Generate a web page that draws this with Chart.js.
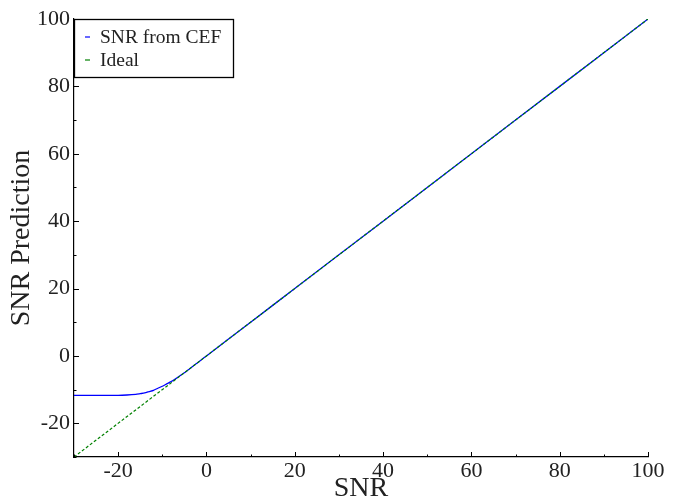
<!DOCTYPE html>
<html>
<head>
<meta charset="utf-8">
<script src="https://cdn.jsdelivr.net/npm/chart.js@4/dist/chart.umd.min.js"></script>
<style>
  html, body { margin: 0; padding: 0; background: #fff; }
  #wrap { width: 679px; height: 503px; position: relative; }
</style>
</head>
<body>
<div id="wrap"><canvas id="snrChart"></canvas></div>
<script>
// SNR from CEF
const cefX = [-30, -25, -20, -18, -16, -15, -14, -13, -12, -11, -10, -9, -8, -7, -6, -5, -4, -3, -2, -1, 0, 10, 20, 40, 60, 80, 100];
const cefY = [-11.7, -11.7, -11.7, -11.6, -11.4, -11.2, -11.0, -10.6, -10.2, -9.6, -9.0, -8.3, -7.6, -6.8, -5.9, -5.0, -4.0, -3.0, -2.0, -1.0, 0, 10, 20, 40, 60, 80, 100];

// Ideal line
const idealX = [-30, 100];
const idealY = [-30, 100];

const xTicks = [-20, 0, 20, 40, 60, 80, 100];
const yTicks = [-20, 0, 20, 40, 60, 80, 100];
const minorTicks = [-30, -10, 10, 30, 50, 70, 90];

const seriesNames = ['SNR from CEF', 'Ideal'];
const seriesColors = ['#0000ff', '#008000'];

const serif = "'Liberation Serif', 'DejaVu Serif', serif";

function toPoints(xs, ys) {
    return xs.map((x, i) => ({ x: x, y: ys[i] }));
}

// inward ticks and the legend box inside the plot
const decorPlugin = {
    id: 'decor',
    afterDraw(chart) {
        const ctx = chart.ctx;
        const xs = chart.scales.x;
        const ys = chart.scales.y;
        const area = chart.chartArea;
        ctx.save();
        ctx.strokeStyle = '#000';
        ctx.lineWidth = 1;
        xTicks.forEach(v => {
            const px = Math.round(xs.getPixelForValue(v)) + 0.5;
            ctx.beginPath(); ctx.moveTo(px, area.bottom); ctx.lineTo(px, area.bottom - 5); ctx.stroke();
        });
        yTicks.forEach(v => {
            const py = Math.round(ys.getPixelForValue(v)) + 0.5;
            ctx.beginPath(); ctx.moveTo(area.left, py); ctx.lineTo(area.left + 5, py); ctx.stroke();
        });
        minorTicks.forEach(v => {
            const px = Math.round(xs.getPixelForValue(v)) + 0.5;
            ctx.beginPath(); ctx.moveTo(px, area.bottom); ctx.lineTo(px, area.bottom - 2.5); ctx.stroke();
            const py = Math.round(ys.getPixelForValue(v)) + 0.5;
            ctx.beginPath(); ctx.moveTo(area.left, py); ctx.lineTo(area.left + 2.5, py); ctx.stroke();
        });

        // legend
        const bx = area.left, by = area.top, bw = 159, bh = 58;
        ctx.fillStyle = '#fff';
        ctx.fillRect(bx, by, bw, bh);
        ctx.strokeStyle = '#000';
        ctx.lineWidth = 1.3;
        ctx.strokeRect(bx + 0.5, by + 0.5, bw, bh);
        ctx.font = '19.5px ' + serif;
        ctx.textBaseline = 'middle';
        ctx.textAlign = 'left';
        seriesNames.forEach((name, i) => {
            const cy = by + 18 + i * 23;
            ctx.strokeStyle = seriesColors[i];
            ctx.lineWidth = 1.2;
            ctx.beginPath(); ctx.moveTo(bx + 11, cy); ctx.lineTo(bx + 16, cy); ctx.stroke();
            ctx.fillStyle = '#222';
            ctx.fillText(name, bx + 26, cy + 1);
        });
        ctx.restore();
    }
};

new Chart(document.getElementById('snrChart'), {
    type: 'scatter',
    data: {
        datasets: [
            {
                label: seriesNames[0],
                data: toPoints(cefX, cefY),
                showLine: true,
                borderColor: seriesColors[0],
                borderWidth: 1.3,
                pointRadius: 0,
                tension: 0.2,
                order: 2
            },
            {
                label: seriesNames[1],
                data: toPoints(idealX, idealY),
                showLine: true,
                borderColor: seriesColors[1],
                borderWidth: 1.2,
                borderDash: [3, 2],
                pointRadius: 0,
                order: 1
            }
        ]
    },
    options: {
        responsive: true,
        maintainAspectRatio: false,
        animation: false,
        layout: { padding: { top: 19, right: 31, left: 0, bottom: 0 } },
        plugins: {
            legend: { display: false },
            tooltip: { enabled: false }
        },
        scales: {
            x: {
                type: 'linear',
                min: -30,
                max: 100,
                afterBuildTicks: s => { s.ticks = xTicks.map(v => ({ value: v })); },
                afterFit: s => { s.height = 46; },
                grid: { display: false, drawTicks: false },
                border: { display: true, color: '#000', width: 1.2 },
                ticks: { color: '#222', padding: 1, maxRotation: 0, font: { family: serif, size: 22 } },
                title: { display: true, text: 'SNR', color: '#222', padding: { top: 0, bottom: 0 }, font: { family: serif, size: 28, lineHeight: 1 } }
            },
            y: {
                type: 'linear',
                min: -30,
                max: 100,
                afterBuildTicks: s => { s.ticks = yTicks.map(v => ({ value: v })); },
                afterFit: s => { s.width = 74; },
                grid: { display: false, drawTicks: false },
                border: { display: true, color: '#000', width: 1.2 },
                ticks: { color: '#222', padding: 4, font: { family: serif, size: 22 } },
                title: { display: true, text: 'SNR Prediction', color: '#222', padding: { top: 5, bottom: 0 }, font: { family: serif, size: 28 } }
            }
        }
    },
    plugins: [decorPlugin]
});
</script>
</body>
</html>
